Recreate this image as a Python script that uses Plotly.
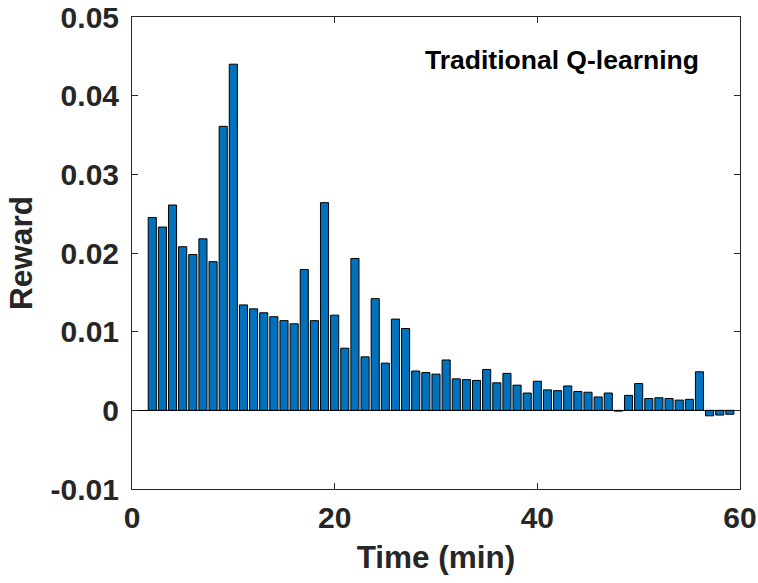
import plotly.graph_objects as go

# Reward per minute for the traditional Q-learning agent
time_min = list(range(2, 60))
reward = [
    0.0245, 0.0233, 0.0261, 0.0208, 0.0198, 0.0218, 0.0189, 0.0361, 0.0440,
    0.0134, 0.0129, 0.0124, 0.0119, 0.0114, 0.0110, 0.0179, 0.0114, 0.0264,
    0.0121, 0.0079, 0.0193, 0.0068, 0.0142, 0.0060, 0.0116, 0.0104, 0.0050,
    0.0048, 0.0046, 0.0064, 0.0040, 0.0039, 0.0038, 0.0052, 0.0035, 0.0047,
    0.0032, 0.0022, 0.0037, 0.0026, 0.0025, 0.0031, 0.0024, 0.0023, 0.0017,
    0.0022, -0.0001, 0.0019, 0.0034, 0.0015, 0.0016, 0.0015, 0.0013, 0.0014,
    0.0049, -0.0007, -0.0006, -0.0005,
]

x_ticks = [0, 20, 40, 60]
y_ticks = [-0.01, 0, 0.01, 0.02, 0.03, 0.04, 0.05]
y_tick_text = ["-0.01", "0", "0.01", "0.02", "0.03", "0.04", "0.05"]

FONT = "Liberation Sans, Arial, Helvetica, sans-serif"
AXIS_COLOR = "#262626"

fig = go.Figure(
    go.Bar(
        x=time_min,
        y=reward,
        width=0.8,
        marker=dict(color="#0072BD", line=dict(color="black", width=1)),
    )
)

fig.add_annotation(
    x=42.4, y=0.0445, xref="x", yref="y",
    text="Traditional Q-learning", showarrow=False,
    xanchor="center", yanchor="middle",
    font=dict(family=FONT, size=26.5, color="black", weight="bold"),
)

axis_common = dict(
    showline=True, linecolor=AXIS_COLOR, linewidth=1, mirror="ticks",
    ticks="inside", ticklen=6, tickcolor=AXIS_COLOR, tickwidth=1,
    showgrid=False, automargin=False, ticklabeloverflow="allow",
    tickfont=dict(family=FONT, size=30, color=AXIS_COLOR, weight="bold"),
)

fig.update_xaxes(
    range=[0, 60], tickvals=x_ticks, zeroline=False,
    title=dict(text="Time (min)", standoff=12,
               font=dict(family=FONT, size=31.5, color=AXIS_COLOR, weight="bold")),
    ticklabelstandoff=2,
    **axis_common,
)
fig.update_yaxes(
    range=[-0.01, 0.05], tickvals=y_ticks, ticktext=y_tick_text,
    zeroline=True, zerolinecolor="black", zerolinewidth=1,
    title=dict(text="Reward", standoff=8,
               font=dict(family=FONT, size=31.5, color=AXIS_COLOR, weight="bold")),
    ticklabelstandoff=6,
    **axis_common,
)

fig.update_layout(
    width=758, height=583,
    margin=dict(l=132, r=18, t=17, b=94),
    paper_bgcolor="white", plot_bgcolor="white",
    showlegend=False,
)

fig.write_html("out.html")
